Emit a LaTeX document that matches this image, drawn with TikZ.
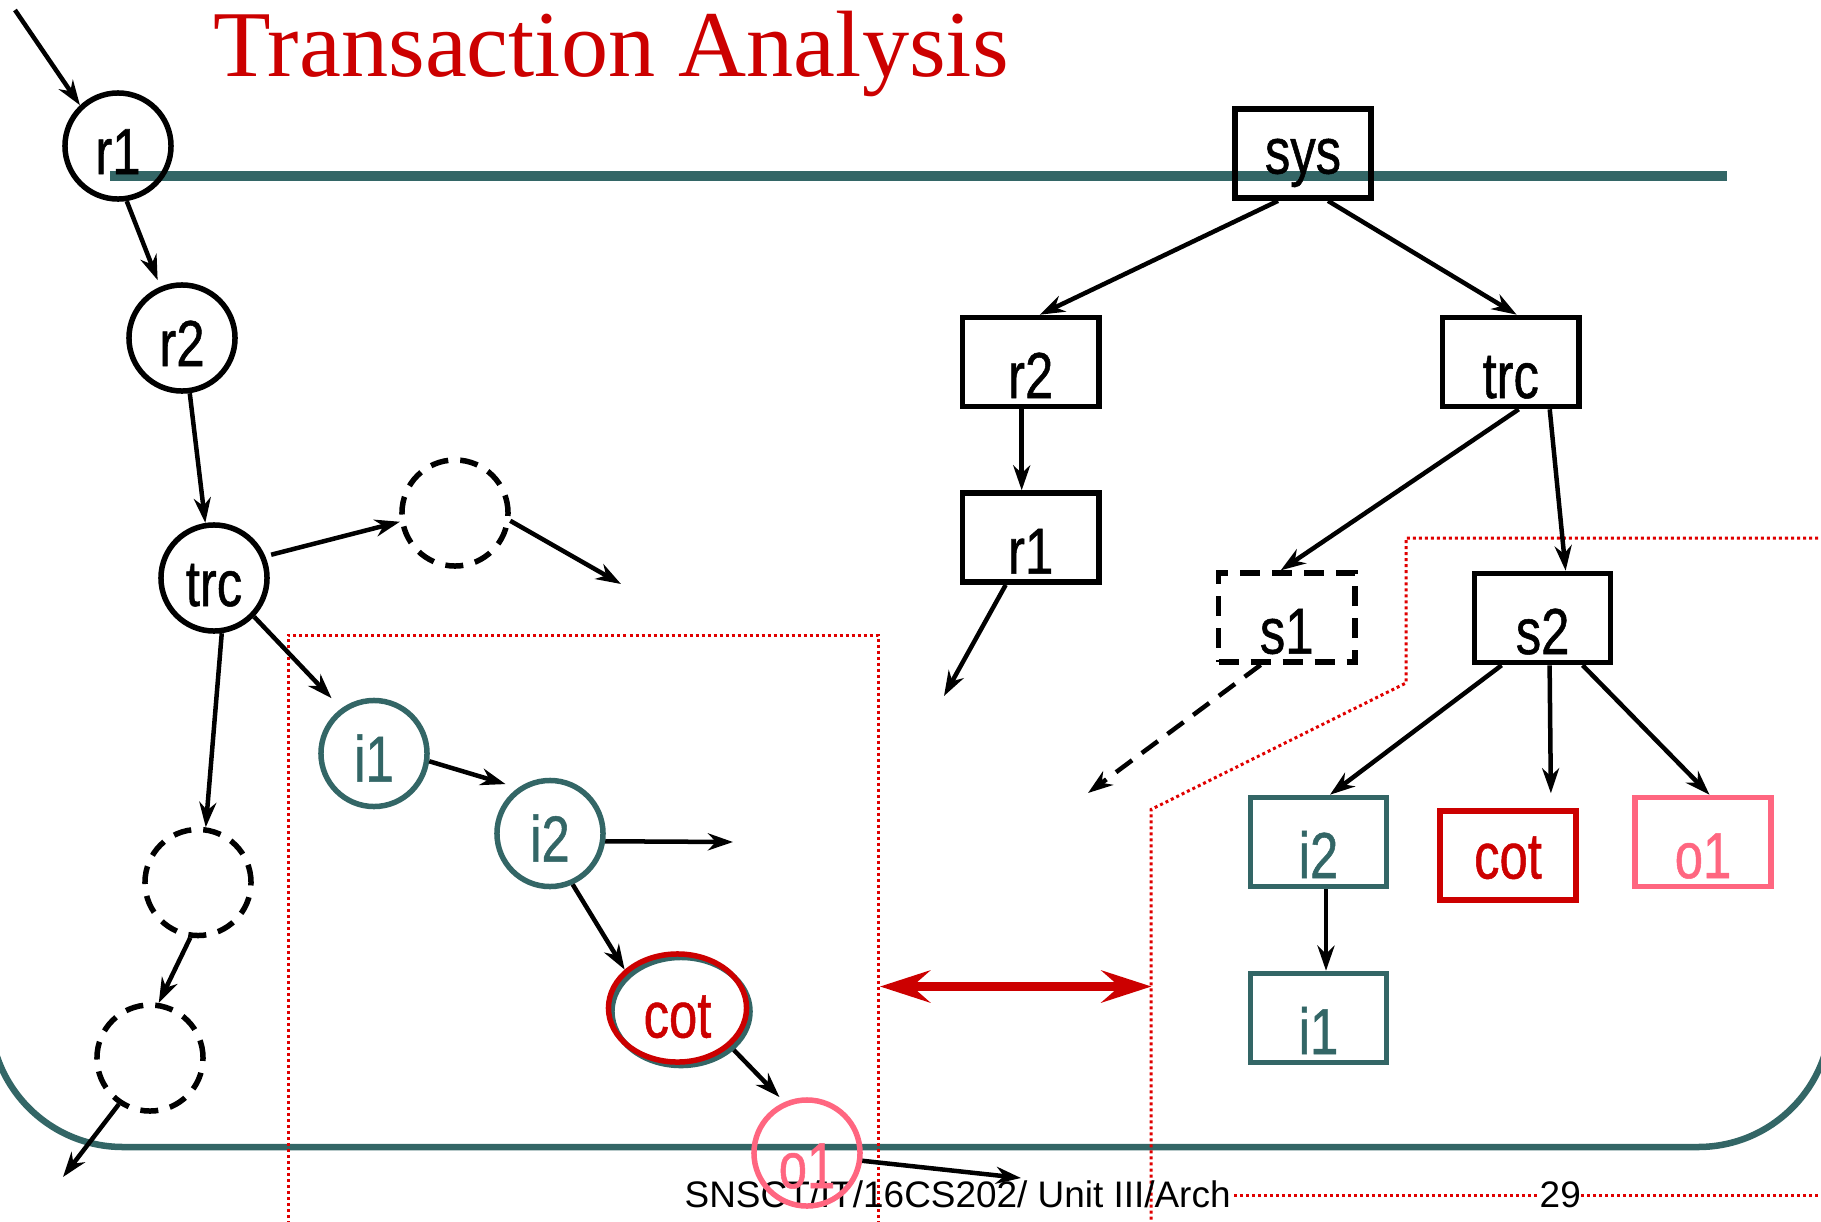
\documentclass[tikz,border=0pt]{standalone}
\usepackage{fontspec}
\setmainfont{Liberation Sans}
\newfontfamily\labfont[FakeStretch=0.78,FakeBold=0.8]{Liberation Sans}
\newfontfamily\titlefont{Liberation Serif}
\usetikzlibrary{arrows.meta,shapes.geometric,calc}
\definecolor{tealc}{HTML}{336666}
\definecolor{redc}{HTML}{CC0000}
\definecolor{pinkc}{HTML}{FF6680}
\definecolor{dotred}{HTML}{E00000}
\begin{document}
\begin{tikzpicture}[x=0.01cm,y=-0.01cm,
  lab/.style={font=\labfont\fontsize{18.5pt}{20pt}\selectfont},
  circ/.style={circle, draw, line width=0.055cm, minimum size=1.06cm, inner sep=0pt, lab, text height=0.56cm, text depth=0pt},
  dcirc/.style={circ, dash pattern=on 0.18cm off 0.12cm},
  bx/.style={rectangle, draw, line width=0.055cm, minimum width=1.36cm, minimum height=0.89cm, inner sep=0pt, lab, text height=0.72cm, text depth=0pt},
  dbx/.style={bx, dash pattern=on 0.2cm off 0.12cm},
  arr/.style={-{Stealth[length=0.25cm,width=0.17cm,inset=0.08cm]}, line width=0.045cm},
  dots/.style={dotred, line width=0.03cm, dash pattern=on 0.03cm off 0.03cm},
  bigarr/.style={{Stealth[length=0.5cm,width=0.32cm,inset=0.18cm]}-{Stealth[length=0.5cm,width=0.32cm,inset=0.18cm]}, line width=0.09cm, redc}
]
\useasboundingbox (0,0) rectangle (1821,1221);
\clip (0,0) rectangle (1821,1221);

% template lines
\draw[tealc, line width=0.065cm, rounded corners=1.33cm] (-10,700) -- (-10,1147) -- (1831,1147) -- (1831,700);
\draw[tealc, line width=0.09cm] (110,176) -- (1727,176);

% dotted regions
\draw[dots] (288,1230) -- (288,635) -- (878,635) -- (878,1230);
\draw[dots] (1830,538) -- (1406,538) -- (1406,683) -- (1151,809.5) -- (1151,1230);
\draw[dots] (1234,1195) -- (1537,1195);
\draw[dots] (1581,1195) -- (1830,1195);

% title and footer
\node[anchor=base west, text=redc, font=\titlefont\fontsize{26.8pt}{30pt}\selectfont, inner sep=0pt] (title) at (213,77) {Transaction Analysis};
\node[anchor=base west, font=\fontsize{10.5pt}{12pt}\selectfont, inner sep=0pt] (foot) at (684,1207.6) {SNSCT/IT/16CS202/ Unit III/Arch};
\node[anchor=base west, font=\fontsize{10.5pt}{12pt}\selectfont, inner sep=0pt] (page) at (1539,1207.6) {29};

% left: structure chart (bubbles)
\node[circ] (r1) at (118,146) {r1};
\node[circ] (r2) at (182,338) {r2};
\node[circ] (trc) at (214,578) {trc};
\node[dcirc] (d1) at (455,513) {};
\node[circ, draw=tealc, text=tealc] (i1) at (374,753.5) {i1};
\node[circ, draw=tealc, text=tealc] (i2) at (550,833.5) {i2};
\coordinate (cotc) at (677.5,1008);
\draw[tealc, line width=0.055cm] ([xshift=0.035cm,yshift=-0.035cm]cotc) ellipse [x radius=0.69cm, y radius=0.54cm];
\node[ellipse, draw=redc, text=redc, line width=0.055cm, minimum width=1.38cm, minimum height=1.08cm, inner sep=0pt, lab, text height=0.59cm, text depth=0pt] (cot) at (cotc) {cot};
\node[circ, draw=pinkc, text=pinkc, text height=0.70cm] (o1) at (807,1153) {o1};
\node[dcirc] (d2) at (198,882.5) {};
\node[dcirc] (d3) at (150,1058) {};

\coordinate (in0) at (15,10);
\coordinate (d1o) at (621,584);
\coordinate (i2o) at (733,842);
\coordinate (o1o) at (1021,1178);
\coordinate (d3o) at (63,1177);

\draw[arr] (in0) -- (r1.133);
\draw[arr, shorten >=0.07cm] (r1.-81) -- (r2.113);
\draw[arr] (r2.-82) -- (trc.99);
\draw[arr, shorten <=0.06cm] (trc.23) -- (d1.189);
\draw[arr] (d1.-8) -- (d1o);
\draw[arr, shorten >=0.14cm] (trc.-44) -- (i1.126);
\draw[arr, shorten >=0.13cm] (i1.-8) -- (i2.125);
\draw[arr] (i2.-8.5) -- (i2o);
\draw[arr] (i2.-66) -- (cot.144);
\draw[arr, shorten <=0.05cm, shorten >=0.07cm] (cot.-36) -- (o1.114.5);
\draw[arr] (o1.-8) -- (o1o);
\draw[arr] (trc.-82) -- (d2.82);
\draw[arr] (d2.-98) -- (d3.81);
\draw[arr] (d3.236) -- (d3o);

% right: tree
\node[bx, text height=0.40cm] (sys) at (1303,153.6) {sys};
\node[bx] (r2b) at (1030.7,362) {r2};
\node[bx] (trcb) at (1510.7,362) {trc};
\node[bx] (r1b) at (1030.7,537.6) {r1};
\node[dbx] (s1) at (1286.7,617.6) {s1};
\node[bx] (s2) at (1542.6,618) {s2};
\node[bx, draw=tealc, text=tealc] (i2b) at (1318.5,842) {i2};
\node[bx, draw=redc, text=redc, text height=0.46cm] (cotb) at (1508,855.5) {cot};
\node[bx, draw=pinkc, text=pinkc] (o1b) at (1703,842) {o1};
\node[bx, draw=tealc, text=tealc] (i1b) at (1318.5,1018) {i1};

\coordinate (r1o) at (944,696);
\coordinate (s1o) at (1088,793);

\draw[arr] ([xshift=-0.25cm]sys.south) -- ([xshift=0.09cm]r2b.north);
\draw[arr] ([xshift=0.25cm]sys.south) -- ([xshift=0.06cm]trcb.north);
\draw[arr] ([xshift=-0.09cm]r2b.south) -- ([xshift=-0.09cm]r1b.north);
\draw[arr] ([xshift=-0.25cm]r1b.south) -- (r1o);
\draw[arr] ([xshift=0.08cm]trcb.south) -- ([xshift=-0.06cm]s1.north);
\draw[arr] ([xshift=0.39cm]trcb.south) -- ([xshift=0.23cm]s2.north);
\draw[arr, dash pattern=on 0.2cm off 0.12cm] ([xshift=-0.26cm]s1.south) -- (s1o);
\draw[arr] ([xshift=-0.41cm]s2.south) -- ([xshift=0.115cm]i2b.north);
\draw[arr, shorten >=0.15cm] ([xshift=0.07cm]s2.south) -- ([xshift=0.43cm]cotb.north);
\draw[arr] ([xshift=0.40cm]s2.south) -- ([xshift=0.065cm]o1b.north);
\draw[arr] ([xshift=0.075cm]i2b.south) -- ([xshift=0.075cm]i1b.north);

% correspondence arrow
\coordinate (dl) at (880,986.5);
\coordinate (dr) at (1151.5,986.5);
\draw[bigarr] (dl) -- (dr);
\end{tikzpicture}
\end{document}
